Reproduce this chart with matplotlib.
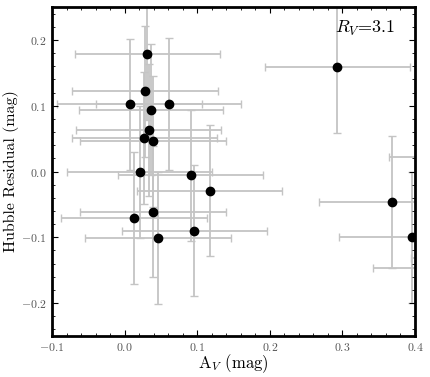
import matplotlib
matplotlib.use("Agg")
import matplotlib.pyplot as plt
from matplotlib.ticker import MultipleLocator

# A_V and Hubble residual values
a_v = [0.031, 0.028, 0.007, 0.061, 0.036, 0.033, 0.027, 0.039, 0.021,
       0.013, 0.039, 0.046, 0.091, 0.096, 0.117, 0.293, 0.368, 0.396,
       0.464, 0.442, 0.494]
hr = [0.179, 0.122, 0.102, 0.103, 0.094, 0.063, 0.051, 0.046, -0.001,
      -0.071, -0.061, -0.101, -0.006, -0.090, -0.029, 0.159, -0.046, -0.100,
      0.022, -0.147, -0.132]
a_v_err = [0.100, 0.100, 0.100, 0.100, 0.099, 0.100, 0.100, 0.100, 0.100,
           0.100, 0.100, 0.100, 0.100, 0.100, 0.100, 0.100, 0.100, 0.100,
           0.100, 0.100, 0.100]
hr_err = [0.100, 0.100, 0.100, 0.100, 0.100, 0.100, 0.100, 0.100, 0.100,
          0.100, 0.100, 0.100, 0.100, 0.100, 0.100, 0.100, 0.100, 0.100,
          0.100, 0.100, 0.100]
r_v = 3.1

plt.rcParams["font.family"] = ["cmr10", "DejaVu Serif"]
plt.rcParams["mathtext.fontset"] = "cm"
plt.rcParams["axes.formatter.use_mathtext"] = True


def plot_residuals(out_name="out"):
    fig = plt.figure(figsize=(4.3, 3.77), dpi=100)
    ax = fig.add_axes([0.121, 0.109, 0.844, 0.872])

    ax.errorbar(a_v, hr, xerr=a_v_err, yerr=hr_err, fmt="none",
                ecolor="#c4c4c4", elinewidth=1.3, capsize=3, capthick=1.0,
                zorder=1)
    ax.plot(a_v, hr, "o", color="black", markersize=6, zorder=2)

    ax.set_xlim(-0.1, 0.4)
    ax.set_ylim(-0.25, 0.25)
    ax.xaxis.set_major_locator(MultipleLocator(0.1))
    ax.xaxis.set_minor_locator(MultipleLocator(0.02))
    ax.yaxis.set_major_locator(MultipleLocator(0.1))
    ax.yaxis.set_minor_locator(MultipleLocator(0.02))
    ax.tick_params(which="both", direction="in", top=True, right=True,
                   colors="black", labelcolor="#555555", labelsize=8.5)
    ax.tick_params(which="major", length=4, width=0.8, pad=4)
    ax.tick_params(which="minor", length=2, width=0.6)
    for sp in ax.spines.values():
        sp.set_linewidth(2)

    ax.set_xlabel(r"A$_V$ (mag)", fontsize=12, labelpad=-1)
    ax.set_ylabel("Hubble Residual (mag)", fontsize=11.5, labelpad=1)
    ax.text(0.78, 0.935, r"$R_V$=%.1f" % r_v, transform=ax.transAxes,
            fontsize=13, ha="left", va="center")

    fig.savefig(f"{out_name}.png", dpi=100)


def main():
    plot_residuals()


if __name__ == "__main__":
    main()
